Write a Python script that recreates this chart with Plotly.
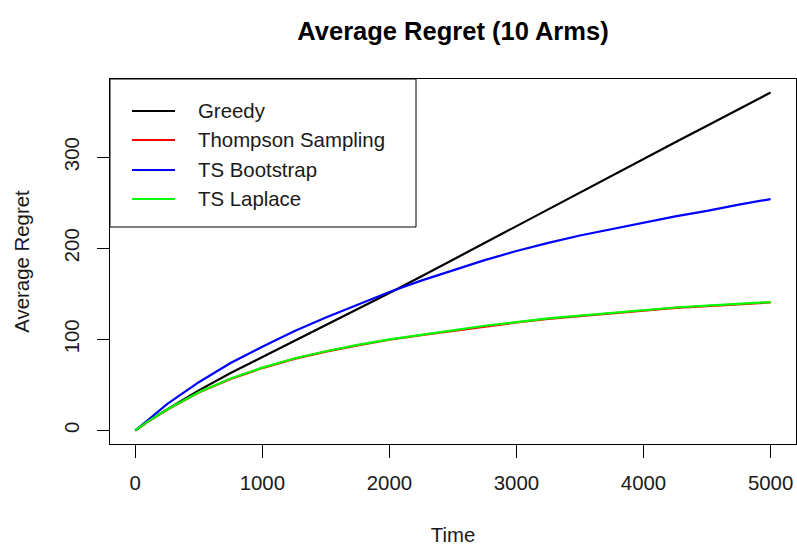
import plotly.graph_objects as go

time = [0, 100, 250, 500, 750, 1000, 1250, 1500, 1750, 2000, 2250, 2500,
        2750, 3000, 3250, 3500, 3750, 4000, 4250, 4500, 4750, 5000]

greedy = [0, 10, 23, 44, 63, 80.5, 98.5, 116, 133.5, 151, 169, 187.5,
          206, 224.5, 243, 261.5, 280, 298, 316.5, 334.5, 353, 371]
thompson = [0, 9.7, 22.6, 41.6, 56.6, 68.5, 78.6, 86.6, 93.5, 99.6, 104.6, 109.5,
            114.5, 118.6, 122.5, 125.6, 128.6, 131.5, 134.6, 136.6, 138.6, 140.6]
ts_bootstrap = [0, 12, 29, 53, 74, 92, 109, 124, 138, 152, 164.5, 176,
                187, 197, 206, 214, 221, 228, 235, 241, 248, 254]
ts_laplace = [0, 10, 23, 42, 57, 69, 79, 87, 94, 100, 105, 110,
              115, 119, 123, 126, 129, 132, 135, 137, 139, 141]

series = [
    ("Greedy", greedy, "#000000"),
    ("Thompson Sampling", thompson, "#FF0000"),
    ("TS Bootstrap", ts_bootstrap, "#0000FF"),
    ("TS Laplace", ts_laplace, "#00FF00"),
]

fig = go.Figure()
for name, vals, col in series:
    fig.add_trace(go.Scatter(x=time, y=vals, mode="lines", name=name,
                             line=dict(color=col, width=2.2), showlegend=False))

xmin, xmax = 1, max(time)
allv = greedy + thompson + ts_bootstrap + ts_laplace
ymin, ymax = min(allv), max(allv)
dx = 0.04 * (xmax - xmin)
dy = 0.04 * (ymax - ymin)

font = "Liberation Sans, Arial, sans-serif"
txt = "#1a1a1a"
fs = 20.4

# R-style legend box (top-left of the plot region)
W, H = 686.0, 365.0
shapes = [dict(type="rect", xref="paper", yref="paper",
               x0=0, x1=306 / W, y0=1 - 148 / H, y1=1,
               line=dict(color="black", width=1), fillcolor="white", layer="above")]
annotations = []
row_y = [32, 61, 91, 120]
for (name, _, col), ry in zip(series, row_y):
    yp = 1 - ry / H
    shapes.append(dict(type="line", xref="paper", yref="paper",
                       x0=22 / W, x1=65 / W, y0=yp, y1=yp,
                       line=dict(color=col, width=2.2), layer="above"))
    annotations.append(dict(xref="paper", yref="paper", x=86 / W, y=yp,
                            xanchor="left", yanchor="middle", text=name,
                            showarrow=False, font=dict(size=fs, family=font, color=txt)))

fig.update_layout(
    width=797, height=546,
    margin=dict(l=110, r=1, t=79, b=102, autoexpand=False),
    paper_bgcolor="white", plot_bgcolor="white",
    font=dict(family=font, size=fs, color=txt),
    title=dict(text="<b>Average Regret (10 Arms)</b>", x=0.5, xanchor="center",
               y=1 - 31 / 546, yanchor="middle", xref="paper",
               font=dict(size=25.5, family=font, color="black")),
    showlegend=False,
    shapes=shapes,
    annotations=annotations,
)
fig.update_xaxes(range=[xmin - dx, xmax + dx], showgrid=False, zeroline=False,
                 automargin=False,
                 showline=True, mirror=True, linecolor="black", linewidth=1,
                 ticks="outside", ticklen=13, tickcolor="black",
                 tickvals=[0, 1000, 2000, 3000, 4000, 5000],
                 tickfont=dict(size=fs, color=txt),
                 ticklabelstandoff=8,
                 title=dict(text="Time", standoff=38, font=dict(size=fs, color=txt)))
fig.update_yaxes(range=[ymin - dy, ymax + dy], showgrid=False, zeroline=False,
                 automargin=False,
                 showline=True, mirror=True, linecolor="black", linewidth=1,
                 ticks="outside", ticklen=12, tickcolor="black",
                 tickvals=[0, 100, 200, 300], tickangle=-90,
                 tickfont=dict(size=fs, color=txt),
                 ticklabelstandoff=10,
                 title=dict(text="Average Regret", standoff=25, font=dict(size=fs, color=txt)))

fig.write_html("out.html", config={"displayModeBar": False},
               post_script="document.body.style.margin='0px';")
